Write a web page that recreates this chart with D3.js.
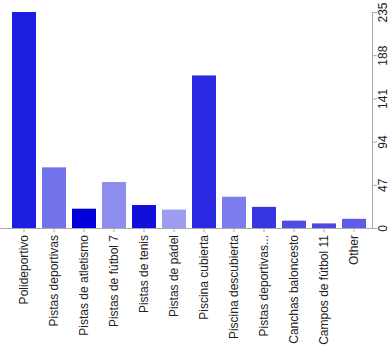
<!DOCTYPE html>
<html>
<head>
<meta charset="utf-8">
<script src="https://cdn.jsdelivr.net/npm/d3@7"></script>
<style>
  html, body { margin: 0; padding: 0; background: #fff; }
  svg { display: block; }
  text { font-family: "Liberation Sans", Arial, sans-serif; }
</style>
</head>
<body>
<svg id="chart" width="390" height="345"></svg>
<script>
// Facility categories and counts
const categories = [
  "Polideportivo", "Pistas deportivas", "Pistas de atletismo", "Pistas de fútbol 7",
  "Pistas de tenis", "Pistas de pádel", "Piscina cubierta", "Piscina descubierta",
  "Pistas deportivas...", "Canchas baloncesto", "Campos de fútbol 11", "Other"
];
const counts = [235, 66, 21, 50, 25, 20, 166, 34, 23, 8, 5, 10];
const barColors = [
  "#1e1ee3", "#7272ea", "#0000dd", "#8d8def", "#1010dc", "#9c9cf0",
  "#2a2ae3", "#7c7cec", "#3636e0", "#4d4de6", "#4a4ae2", "#5d5de9"
];
const yTicks = [0, 47, 94, 141, 188, 235];

const svg = d3.select("#chart");
const baseY = 228, topY = 12, axisX = 372;

const x = d3.scaleBand().domain(categories).range([9, 369]).paddingInner(0.2).paddingOuter(0.1);
const y = d3.scaleLinear().domain([0, 235]).range([baseY, topY]);

// Bars
svg.append("g").selectAll("rect")
  .data(categories)
  .join("rect")
  .attr("x", d => x(d))
  .attr("width", x.bandwidth())
  .attr("y", (d, i) => y(counts[i]))
  .attr("height", (d, i) => baseY - y(counts[i]))
  .attr("fill", (d, i) => barColors[i]);

// Category axis along the baseline
const xAxis = svg.append("g")
  .attr("transform", `translate(0,${baseY})`)
  .call(d3.axisBottom(x).tickSize(4).tickSizeOuter(0));
xAxis.select(".domain").attr("d", `M0,0.5H${axisX}`).attr("stroke", "#aaa");
xAxis.selectAll(".tick line").attr("stroke", "#aaa");
xAxis.selectAll(".tick text")
  .attr("font-size", 12)
  .attr("fill", "#222")
  .attr("text-anchor", "end")
  .attr("transform", "rotate(-90)")
  .attr("x", -7)
  .attr("y", 0)
  .attr("dy", "0.35em");

// Value axis on the right
const yAxis = svg.append("g")
  .attr("transform", `translate(${axisX},0)`)
  .call(d3.axisRight(y).tickValues(yTicks).tickSize(5).tickSizeOuter(0));
yAxis.select(".domain").attr("stroke", "#aaa");
yAxis.selectAll(".tick line").attr("stroke", "#aaa");
yAxis.selectAll(".tick text")
  .attr("font-size", 12)
  .attr("fill", "#222")
  .attr("text-anchor", "middle")
  .attr("transform", "rotate(-90)")
  .attr("x", 0)
  .attr("y", 11)
  .attr("dy", "0.35em");
</script>
</body>
</html>
